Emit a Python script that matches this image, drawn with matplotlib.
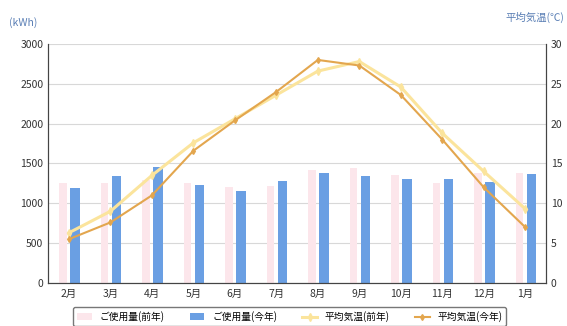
import matplotlib
matplotlib.use("Agg")
import matplotlib.pyplot as plt
import numpy as np

plt.rcParams['font.family'] = ['Noto Sans CJK JP', 'DejaVu Sans']

months = ['2月', '3月', '4月', '5月', '6月', '7月', '8月', '9月', '10月', '11月', '12月', '1月']
usage_prev = [1255, 1255, 1290, 1250, 1200, 1220, 1415, 1440, 1355, 1255, 1380, 1380]
usage_now = [1195, 1345, 1455, 1235, 1160, 1280, 1380, 1345, 1305, 1310, 1265, 1370]
temp_prev = [6.3, 9.0, 13.5, 17.6, 20.6, 23.6, 26.6, 27.8, 24.6, 18.8, 14.0, 9.3]
temp_now = [5.5, 7.6, 11.0, 16.6, 20.4, 24.0, 28.0, 27.3, 23.6, 18.0, 12.0, 7.0]

pink = '#fce6eb'
blue = '#6a9fe3'
light = '#fbe49c'
dark = '#e3a64e'
label_col = '#5a7fb5'

fig = plt.figure(figsize=(5.67, 3.26), dpi=100)
ax = fig.add_axes([0.085, 0.132, 0.878, 0.733])
ax2 = ax.twinx()

x = np.arange(len(months))
ax.bar(x - 0.145, usage_prev, width=0.18, color=pink, zorder=2, label='ご使用量(前年)')
ax.bar(x + 0.145, usage_now, width=0.23, color=blue, zorder=2, label='ご使用量(今年)')

ax2.plot(x, temp_prev, color=light, lw=2.2, marker='d', ms=4, zorder=3, label='平均気温(前年)')
ax2.plot(x, temp_now, color=dark, lw=1.5, marker='d', ms=3, zorder=4, label='平均気温(今年)')

ax.set_xlim(-0.5, len(months) - 0.5)
ax.set_ylim(0, 3000)
ax.set_yticks(range(0, 3001, 500))
ax2.set_ylim(0, 30)
ax2.set_yticks(range(0, 31, 5))
ax.set_xticks(x)
ax.set_xticklabels(months)

ax.grid(axis='y', color='#d8d8d8', lw=0.8, zorder=0)
ax.set_axisbelow(True)
for a in (ax, ax2):
    a.spines['top'].set_visible(False)
    a.spines['left'].set_color('#444444')
    a.spines['right'].set_color('#444444')
    a.spines['bottom'].set_color('#444444')
    a.tick_params(length=0, labelsize=7.5, colors='#333333')
ax.tick_params(axis='x', pad=4)

fig.text(0.015, 0.92, '(kWh)', color=label_col, fontsize=7.5)
fig.text(0.995, 0.935, '平均気温(℃)', color=label_col, fontsize=7.5, ha='right')

h1, l1 = ax.get_legend_handles_labels()
h2, l2 = ax2.get_legend_handles_labels()
leg = fig.legend(h1 + h2, l1 + l2, loc='upper center', bbox_to_anchor=(0.511, 0.072),
                 ncol=4, fontsize=7, frameon=True, fancybox=True, edgecolor='#555555',
                 handlelength=1.5, columnspacing=2.6, borderpad=0.4)
leg.get_frame().set_linewidth(1.0)

fig.savefig('out.png', dpi=100)
